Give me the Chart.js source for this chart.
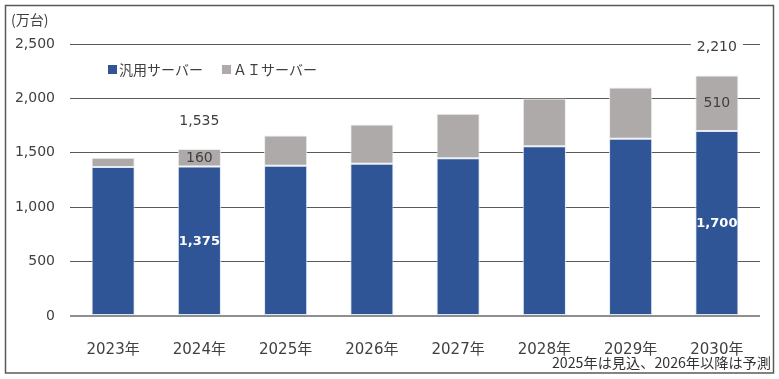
<!DOCTYPE html>
<html>
<head>
<meta charset="utf-8">
<script src="https://cdn.jsdelivr.net/npm/chart.js@4"></script>
<style>
html,body{margin:0;padding:0;background:#fff;}
#wrap{width:779px;height:379px;position:relative;}
</style>
</head>
<body>
<div id="wrap"><canvas id="c" width="779" height="379"></canvas></div>
<script>
const categories = ['2023年','2024年','2025年','2026年','2027年','2028年','2029年','2030年'];
const generalServers = [1370, 1375, 1380, 1400, 1450, 1560, 1630, 1700];
const aiServers = [85, 160, 280, 360, 410, 440, 470, 510];
const labelledYears = ['2024年', '2030年'];
const yTicks = [0, 500, 1000, 1500, 2000, 2500];
const seriesNames = ['汎用サーバー', 'ＡＩサーバー'];
const unitLabel = '(万台)';
const footnote = '2025年は見込、2026年以降は予測';

const BLUE = '#2F5597';
const GREY = '#AEAAAA';
const TEXT = '#404040';
const NUM_FONT = '"DejaVu Sans", "Noto Sans CJK JP", sans-serif';
const JP_FONT = '"Noto Sans CJK JP", "DejaVu Sans", sans-serif';

const fmt = v => v.toLocaleString('en-US');

const decor = {
  id: 'decor',
  beforeDraw(chart) {
    const ctx = chart.ctx;
    ctx.save();
    ctx.fillStyle = '#fff';
    ctx.fillRect(0, 0, chart.width, chart.height);
    ctx.strokeStyle = '#595959';
    ctx.lineWidth = 1.5;
    ctx.strokeRect(5.5, 5.5, 768, 367.5);
    ctx.restore();
  },
  afterDatasetsDraw(chart) {
    const ctx = chart.ctx;
    const x = chart.scales.x, y = chart.scales.y;
    ctx.save();
    ctx.textAlign = 'center';
    ctx.textBaseline = 'middle';
    labelledYears.forEach(yr => {
      const i = categories.indexOf(yr);
      const cx = x.getPixelForValue(i);
      const g = generalServers[i], a = aiServers[i], t = g + a;
      ctx.font = 'bold 13px ' + NUM_FONT;
      ctx.fillStyle = '#fff';
      ctx.fillText(fmt(g), cx, (y.getPixelForValue(0) + y.getPixelForValue(g)) / 2);
      ctx.font = '14px ' + NUM_FONT;
      ctx.fillStyle = TEXT;
      ctx.fillText(fmt(a), cx, (y.getPixelForValue(g) + y.getPixelForValue(t)) / 2 + 0.5);
      const ty = y.getPixelForValue(t) - 28;
      const tw = ctx.measureText(fmt(t)).width;
      ctx.fillStyle = '#fff';
      ctx.fillRect(cx - tw / 2 - 6, ty - 9, tw + 12, 18);
      ctx.fillStyle = TEXT;
      ctx.fillText(fmt(t), cx, ty);
    });
    const items = [
      { x: 108, color: BLUE, text: seriesNames[0] },
      { x: 222, color: GREY, text: seriesNames[1] }
    ];
    ctx.textAlign = 'left';
    ctx.font = '14px ' + JP_FONT;
    items.forEach(it => {
      ctx.fillStyle = it.color;
      ctx.fillRect(it.x, 65, 9, 9);
      ctx.fillStyle = TEXT;
      ctx.fillText(it.text, it.x + 11, 70);
    });
    ctx.font = '14px ' + JP_FONT;
    ctx.fillText(unitLabel, 11, 20);
    ctx.textAlign = 'right';
    ctx.font = '14.2px ' + JP_FONT;
    ctx.fillStyle = '#333';
    ctx.fillText(footnote, 771, 363);
    ctx.restore();
  }
};

new Chart(document.getElementById('c'), {
  type: 'bar',
  data: {
    labels: categories,
    datasets: [
      { label: seriesNames[0], data: generalServers, backgroundColor: BLUE, borderColor: 'rgba(220,228,245,0.9)', borderWidth: 1, borderSkipped: false, barPercentage: 0.5, categoryPercentage: 1 },
      { label: seriesNames[1], data: aiServers, backgroundColor: GREY, borderColor: 'rgba(235,235,235,0.9)', borderWidth: 1, borderSkipped: false, barPercentage: 0.5, categoryPercentage: 1 }
    ]
  },
  options: {
    responsive: false,
    animation: false,
    devicePixelRatio: 1,
    layout: { padding: { top: 44, right: 19, bottom: 22, left: 0 } },
    plugins: { legend: { display: false }, tooltip: { enabled: false } },
    scales: {
      x: {
        stacked: true,
        grid: { display: false },
        border: { display: false },
        ticks: { color: TEXT, font: { family: NUM_FONT, size: 15 }, padding: 17, maxRotation: 0 },
        afterFit(s) { s.height = 41; }
      },
      y: {
        stacked: true,
        min: 0,
        max: 2500,
        afterBuildTicks(s) { s.ticks = yTicks.map(v => ({ value: v })); },
        grid: {
          drawTicks: false,
          color: c => c.tick && c.tick.value === 0 ? '#8f8f8f' : '#595959',
          lineWidth: c => c.tick && c.tick.value === 0 ? 2 : 1
        },
        border: { display: false },
        ticks: { color: TEXT, font: { family: NUM_FONT, size: 14 }, padding: 15, callback: v => fmt(v) },
        afterFit(s) { s.width = 70; }
      }
    }
  },
  plugins: [decor]
});
</script>
</body>
</html>
